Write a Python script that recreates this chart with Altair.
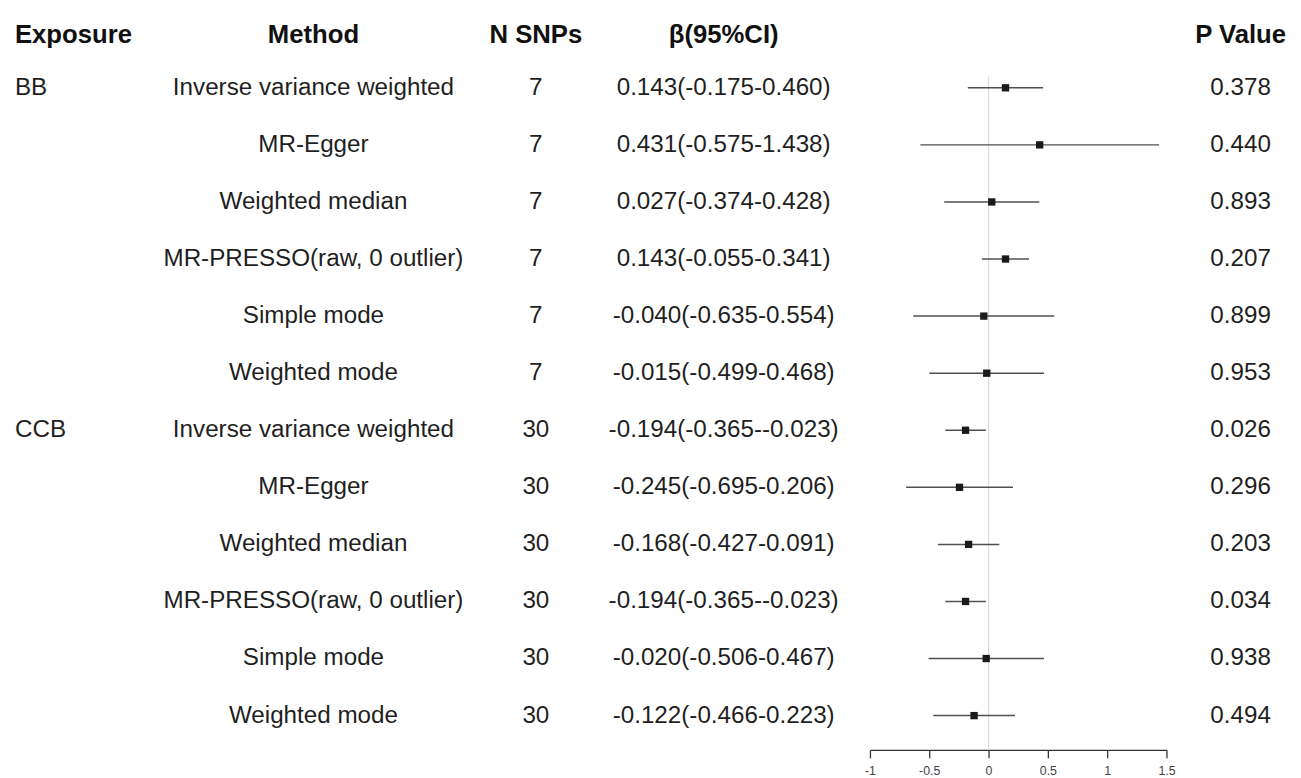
import altair as alt
import pandas as pd

# ---------------- data ----------------
exposure_names = ["BB", "CCB"]
methods = ["Inverse variance weighted", "MR-Egger", "Weighted median",
           "MR-PRESSO(raw, 0 outlier)", "Simple mode", "Weighted mode"]
n_snps = [7, 7, 7, 7, 7, 7, 30, 30, 30, 30, 30, 30]
beta = [0.143, 0.431, 0.027, 0.143, -0.040, -0.015,
        -0.194, -0.245, -0.168, -0.194, -0.020, -0.122]
ci_low = [-0.175, -0.575, -0.374, -0.055, -0.635, -0.499,
          -0.365, -0.695, -0.427, -0.365, -0.506, -0.466]
ci_high = [0.460, 1.438, 0.428, 0.341, 0.554, 0.468,
           -0.023, 0.206, 0.091, -0.023, 0.467, 0.223]
p_values = ["0.378", "0.440", "0.893", "0.207", "0.899", "0.953",
            "0.026", "0.296", "0.203", "0.034", "0.938", "0.494"]
headers = ["Exposure", "Method", "N SNPs", "β(95%CI)", "P Value"]
x_ticks = [-1, -0.5, 0, 0.5, 1, 1.5]

rows = []
for g, name in enumerate(exposure_names):
    for m, meth in enumerate(methods):
        i = g * len(methods) + m
        rows.append({
            "row": i,
            "exposure": name if m == 0 else "",
            "method": meth,
            "nsnp": str(n_snps[i]),
            "beta": beta[i],
            "lo": ci_low[i],
            "hi": ci_high[i],
            "ci": f"{beta[i]:.3f}({ci_low[i]:.3f}-{ci_high[i]:.3f})",
            "p": p_values[i],
        })
df = pd.DataFrame(rows)

# ---------------- layout ----------------
FONT = "Liberation Sans"
FS = 24.5
HFS = 26
TXT = "#1f1f1f"
H = 746
Y_DOMAIN = [-1.32, 11.6]
HEADER_ROW = -0.93
yscale = alt.Scale(domain=Y_DOMAIN, reverse=True, nice=False, zero=False)
Y = alt.Y("row:Q", scale=yscale, axis=None)

# panel bounds (absolute px) and text anchor positions
panels = [
    # (field, header, left, right, anchor_x, align)
    ("exposure", "Exposure", 8, 150, 15, "left"),
    ("method", "Method", 150, 482, 317, "center"),
    ("nsnp", "N SNPs", 482, 602, 542, "center"),
    ("ci", "β(95%CI)", 602, 874, 732, "center"),
]
FOREST = (874, 1174)
P_PANEL = ("p", "P Value", 1174, 1293, 1240, "center")


def text_panel(field, header, left, right, anchor, align):
    w = right - left
    xv = anchor - left
    body = alt.Chart(df).mark_text(
        font=FONT, fontSize=FS, color=TXT, align=align, baseline="middle"
    ).encode(x=alt.value(xv), y=Y, text=f"{field}:N")
    head = alt.Chart(pd.DataFrame({"h": [header], "row": [HEADER_ROW]})).mark_text(
        font=FONT, fontSize=HFS, fontWeight="bold", color="#111111",
        align=align, baseline="middle"
    ).encode(x=alt.value(xv), y=Y, text="h:N")
    return alt.layer(body, head).properties(width=w, height=H)


cols = [text_panel(*p) for p in panels]

xscale = alt.Scale(domain=[-1, 1.5], nice=False, zero=False)
zero_df = pd.DataFrame({"x": [0], "row": [-0.2], "row2": [Y_DOMAIN[1]]})
zero_line = alt.Chart(zero_df).mark_rule(color="#dcdcdc", strokeWidth=1.2).encode(
    x=alt.X("x:Q", scale=xscale,
            axis=alt.Axis(values=x_ticks, title=None, grid=False,
                          labelExpr="datum.value + ''",
                          tickSize=8, tickColor="#333333", tickWidth=1.3,
                          domainColor="#333333", domainWidth=1.3,
                          labelFont=FONT, labelFontSize=12.5, labelColor="#444444",
                          labelPadding=7, labelFlush=False)),
    y=alt.Y("row:Q", scale=yscale, axis=None),
    y2="row2:Q",
)
ci_rules = alt.Chart(df).mark_rule(color="#505050", strokeWidth=1.5).encode(
    x=alt.X("lo:Q", scale=xscale), x2="hi:Q", y=Y
)
points = alt.Chart(df).mark_point(
    shape="square", filled=True, color="#1a1a1a", opacity=1, size=55
).encode(x=alt.X("beta:Q", scale=xscale), y=Y)
forest = alt.layer(zero_line, ci_rules, points).properties(
    width=FOREST[1] - FOREST[0], height=H
)

p_col = text_panel(*P_PANEL)

chart = alt.hconcat(*cols, forest, p_col, spacing=0).properties(
    padding={"left": 0, "top": 0, "right": 0, "bottom": 0}
).configure_view(strokeOpacity=0).configure_concat(spacing=0)

chart.save("out.html", embed_options={"renderer": "svg", "actions": False})
